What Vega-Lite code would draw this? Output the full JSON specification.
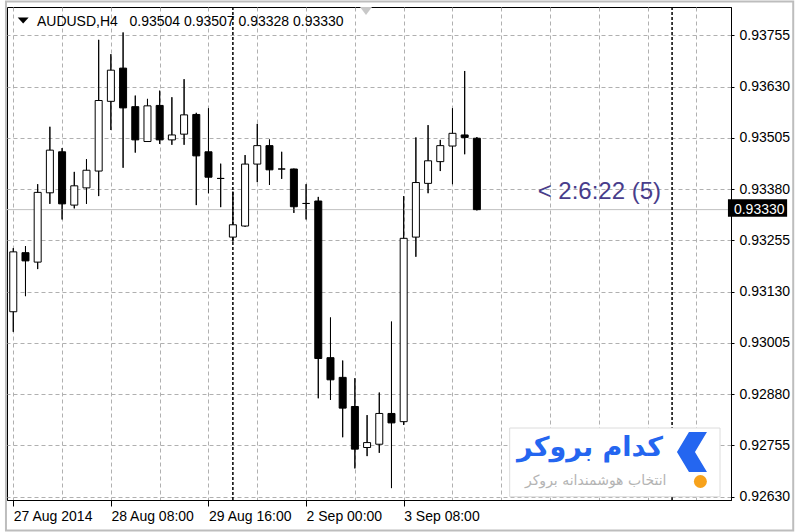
{
  "$schema": "https://vega.github.io/schema/vega-lite/v6.json",
  "width": 724,
  "height": 493,
  "autosize": {"type": "none"},
  "padding": {"left": 7, "top": 7, "right": 69, "bottom": 32},
  "background": "#ffffff",
  "config": {
    "view": {"stroke": "#000000", "strokeWidth": 1},
    "font": "Liberation Sans"
  },
  "data": {
    "values": [
      {"i": 0, "o": 0.93081, "h": 0.93236, "l": 0.93032, "c": 0.93227},
      {"i": 1, "o": 0.93225, "h": 0.93241, "l": 0.93119, "c": 0.93205},
      {"i": 2, "o": 0.93202, "h": 0.93392, "l": 0.93185, "c": 0.93372},
      {"i": 3, "o": 0.93371, "h": 0.93532, "l": 0.93344, "c": 0.93475},
      {"i": 4, "o": 0.93471, "h": 0.93480, "l": 0.93306, "c": 0.93344},
      {"i": 5, "o": 0.93341, "h": 0.93422, "l": 0.93333, "c": 0.93388},
      {"i": 6, "o": 0.93383, "h": 0.93453, "l": 0.93344, "c": 0.93426},
      {"i": 7, "o": 0.93424, "h": 0.93744, "l": 0.93363, "c": 0.93596},
      {"i": 8, "o": 0.93594, "h": 0.93709, "l": 0.93524, "c": 0.93670},
      {"i": 9, "o": 0.93675, "h": 0.93762, "l": 0.93432, "c": 0.93578},
      {"i": 10, "o": 0.93581, "h": 0.93608, "l": 0.93469, "c": 0.93500},
      {"i": 11, "o": 0.93496, "h": 0.93600, "l": 0.93495, "c": 0.93583},
      {"i": 12, "o": 0.93584, "h": 0.93620, "l": 0.93490, "c": 0.93500},
      {"i": 13, "o": 0.93500, "h": 0.93604, "l": 0.93488, "c": 0.93512},
      {"i": 14, "o": 0.93514, "h": 0.93648, "l": 0.93488, "c": 0.93561},
      {"i": 15, "o": 0.93562, "h": 0.93566, "l": 0.93341, "c": 0.93461},
      {"i": 16, "o": 0.93471, "h": 0.93577, "l": 0.93370, "c": 0.93409},
      {"i": 17, "o": 0.93406, "h": 0.93442, "l": 0.93336, "c": 0.93406},
      {"i": 18, "o": 0.93263, "h": 0.93374, "l": 0.93252, "c": 0.93293},
      {"i": 19, "o": 0.93290, "h": 0.93463, "l": 0.93288, "c": 0.93441},
      {"i": 20, "o": 0.93441, "h": 0.93539, "l": 0.93397, "c": 0.93486},
      {"i": 21, "o": 0.93486, "h": 0.93501, "l": 0.93390, "c": 0.93427},
      {"i": 22, "o": 0.93429, "h": 0.93471, "l": 0.93405, "c": 0.93429},
      {"i": 23, "o": 0.93429, "h": 0.93430, "l": 0.93322, "c": 0.93337},
      {"i": 24, "o": 0.93345, "h": 0.93392, "l": 0.93306, "c": 0.93345},
      {"i": 25, "o": 0.93351, "h": 0.93361, "l": 0.92870, "c": 0.92967},
      {"i": 26, "o": 0.92969, "h": 0.93067, "l": 0.92866, "c": 0.92915},
      {"i": 27, "o": 0.92921, "h": 0.92962, "l": 0.92775, "c": 0.92846},
      {"i": 28, "o": 0.92850, "h": 0.92919, "l": 0.92699, "c": 0.92746},
      {"i": 29, "o": 0.92750, "h": 0.92829, "l": 0.92729, "c": 0.92762},
      {"i": 30, "o": 0.92758, "h": 0.92884, "l": 0.92737, "c": 0.92833},
      {"i": 31, "o": 0.92833, "h": 0.93057, "l": 0.92651, "c": 0.92810},
      {"i": 32, "o": 0.92813, "h": 0.93363, "l": 0.92805, "c": 0.93260},
      {"i": 33, "o": 0.93263, "h": 0.93506, "l": 0.93215, "c": 0.93396},
      {"i": 34, "o": 0.93394, "h": 0.93536, "l": 0.93370, "c": 0.93449},
      {"i": 35, "o": 0.93447, "h": 0.93500, "l": 0.93424, "c": 0.93486},
      {"i": 36, "o": 0.93485, "h": 0.93577, "l": 0.93392, "c": 0.93516},
      {"i": 37, "o": 0.93512, "h": 0.93668, "l": 0.93465, "c": 0.93506},
      {"i": 38, "o": 0.93504, "h": 0.93507, "l": 0.93328, "c": 0.93330}
    ]
  },
  "layer": [
    {
      "mark": {"type": "rule", "stroke": "#000000", "strokeWidth": 1},
      "encoding": {
        "x": {
          "field": "i", "type": "quantitative",
          "scale": {"domain": [-0.105, 58.42], "nice": false, "zero": false},
          "axis": {
            "title": null,
            "values": [0, 4, 8, 12, 16, 20, 24, 28, 32, 36, 40, 44, 48, 52, 56],
            "labelExpr": "datum.value == 0 ? '27 Aug 2014' : datum.value == 8 ? '28 Aug 08:00' : datum.value == 16 ? '29 Aug 16:00' : datum.value == 24 ? '2 Sep 00:00' : datum.value == 32 ? '3 Sep 08:00' : ''",
            "tickOpacity": {"condition": {"test": "datum.value % 8 == 0 && datum.value <= 32", "value": 1}, "value": 0},
            "tickSize": 6,
            "tickColor": "#000000",
            "domainColor": "#000000",
            "labelAlign": "left",
            "labelBaseline": "top",
            "labelPadding": 3,
            "labelFont": "Liberation Sans",
            "labelFontSize": 14,
            "labelColor": "#000000",
            "labelFlush": false,
            "labelOverlap": false,
            "labelBound": false,
            "grid": true,
            "gridColor": "#b0b0b0",
            "gridDash": [4, 3],
            "gridWidth": 1
          }
        },
        "y": {
          "field": "l", "type": "quantitative",
          "scale": {"domain": [0.92622, 0.93824], "nice": false, "zero": false},
          "axis": {
            "orient": "right",
            "title": null,
            "values": [0.9263, 0.92755, 0.9288, 0.93005, 0.9313, 0.93255, 0.9338, 0.93505, 0.9363, 0.93755],
            "format": ".5f",
            "tickSize": 3,
            "tickColor": "#000000",
            "domainColor": "#000000",
            "labelPadding": 5,
            "labelFont": "Liberation Sans",
            "labelFontSize": 14,
            "labelColor": "#000000",
            "labelBaseline": "middle",
            "labelFlush": false,
            "labelOverlap": false,
            "labelBound": false,
            "grid": true,
            "gridColor": "#b0b0b0",
            "gridDash": [4, 3],
            "gridWidth": 1
          }
        },
        "y2": {"field": "h"}
      }
    },
    {
      "data": {"values": [{}]},
      "mark": {"type": "rect", "fill": null, "fillOpacity": 0, "stroke": "#bdbdbd", "strokeWidth": 2},
      "encoding": {
        "x": {"datum": -0.6, "type": "quantitative"},
        "x2": {"datum": 63.93},
        "y": {"datum": 0.938376, "type": "quantitative"},
        "y2": {"datum": 0.925476}
      }
    },
    {
      "data": {"values": [{}]},
      "mark": {"type": "rule", "stroke": "#c0c0c0", "strokeWidth": 1},
      "encoding": {"y": {"datum": 0.9333, "type": "quantitative"}}
    },
    {
      "data": {"values": [{"week_start_bar": 18}, {"week_start_bar": 54}]},
      "mark": {"type": "rule", "stroke": "#000000", "strokeWidth": 1.5, "strokeDash": [3, 2]},
      "encoding": {"x": {"field": "week_start_bar", "type": "quantitative"}}
    },
    {
      "mark": {"type": "rule", "stroke": "#000000", "strokeWidth": 1},
      "encoding": {
        "x": {"field": "i", "type": "quantitative"},
        "y": {"field": "l", "type": "quantitative"},
        "y2": {"field": "h"}
      }
    },
    {
      "mark": {"type": "bar", "width": 7, "stroke": "#000000", "strokeWidth": 1},
      "encoding": {
        "x": {"field": "i", "type": "quantitative"},
        "y": {"field": "o", "type": "quantitative"},
        "y2": {"field": "c"},
        "fill": {"condition": {"test": "datum.c >= datum.o", "value": "#ffffff"}, "value": "#000000"}
      }
    },
    {
      "data": {"values": [{}]},
      "mark": {"type": "rect", "fill": "#ffffff", "stroke": "#dcdcdc", "strokeWidth": 1},
      "encoding": {
        "x": {"datum": 40.69, "type": "quantitative"},
        "x2": {"datum": 57.93},
        "y": {"datum": 0.927975, "type": "quantitative"},
        "y2": {"datum": 0.9263}
      }
    },
    {
      "data": {"values": [{}]},
      "mark": {"type": "point", "filled": true, "opacity": 1, "fill": "#2466f0", "strokeWidth": 0, "size": 1600,
               "shape": "M-0.75,0 L-0.15,-1 L0.75,-1 L0.15,0 L0.75,1 L-0.15,1 Z"},
      "encoding": {
        "x": {"datum": 55.63, "type": "quantitative"},
        "y": {"datum": 0.92739, "type": "quantitative"}
      }
    },
    {
      "data": {"values": [{}]},
      "mark": {"type": "point", "filled": true, "opacity": 1, "fill": "#f7a21b", "strokeWidth": 0, "size": 169, "shape": "circle"},
      "encoding": {
        "x": {"datum": 56.32, "type": "quantitative"},
        "y": {"datum": 0.926671, "type": "quantitative"}
      }
    },
    {
      "data": {"values": [{}]},
      "mark": {"type": "text", "text": "کدام بروکر", "font": "DejaVu Sans", "fontWeight": "bold", "fontSize": 27, "fill": "#2466f0", "align": "right", "baseline": "middle"},
      "encoding": {
        "x": {"datum": 53.25, "type": "quantitative"},
        "y": {"datum": 0.927488, "type": "quantitative"}
      }
    },
    {
      "data": {"values": [{}]},
      "mark": {"type": "text", "text": "انتخاب هوشمندانه بروکر", "font": "DejaVu Sans", "fontSize": 14, "fill": "#b4b4b4", "align": "right", "baseline": "middle"},
      "encoding": {
        "x": {"datum": 53.54, "type": "quantitative"},
        "y": {"datum": 0.926695, "type": "quantitative"}
      }
    },
    {
      "data": {"values": [{}]},
      "mark": {"type": "point", "filled": true, "opacity": 1, "fill": "#000000", "strokeWidth": 0, "size": 121,
               "shape": "M-1,-0.55 L1,-0.55 L0,0.55 Z"},
      "encoding": {
        "x": {"datum": 0.81, "type": "quantitative"},
        "y": {"datum": 0.93791, "type": "quantitative"}
      }
    },
    {
      "data": {"values": [{}]},
      "mark": {"type": "text", "text": "AUDUSD,H4\u00a0\u00a0\u00a00.93504 0.93507 0.93328 0.93330", "font": "Liberation Sans", "fontSize": 14, "fill": "#000000", "align": "left", "baseline": "alphabetic"},
      "encoding": {
        "x": {"datum": 1.94, "type": "quantitative"},
        "y": {"datum": 0.93778, "type": "quantitative"}
      }
    },
    {
      "data": {"values": [{}]},
      "mark": {"type": "text", "text": "< 2:6:22 (5)", "font": "Liberation Sans", "fontSize": 24, "fill": "#483d8b", "align": "left", "baseline": "alphabetic"},
      "encoding": {
        "x": {"datum": 42.98, "type": "quantitative"},
        "y": {"datum": 0.93355, "type": "quantitative"}
      }
    },
    {
      "data": {"values": [{}]},
      "mark": {"type": "point", "filled": true, "opacity": 1, "fill": "#c8c8c8", "strokeWidth": 0, "size": 144,
               "shape": "M-1,-0.67 L1,-0.67 L0,0.67 Z"},
      "encoding": {
        "x": {"datum": 28.91, "type": "quantitative"},
        "y": {"datum": 0.938142, "type": "quantitative"}
      }
    },
    {
      "data": {"values": [{}]},
      "mark": {"type": "rect", "fill": "#000000"},
      "encoding": {
        "x": {"datum": 58.58, "type": "quantitative"},
        "x2": {"datum": 63.43},
        "y": {"datum": 0.933551, "type": "quantitative"},
        "y2": {"datum": 0.933127}
      }
    },
    {
      "data": {"values": [{}]},
      "mark": {"type": "text", "text": "0.93330", "font": "Liberation Sans", "fontSize": 14, "fill": "#ffffff", "align": "left", "baseline": "middle"},
      "encoding": {
        "x": {"datum": 59.07, "type": "quantitative"},
        "y": {"datum": 0.9333, "type": "quantitative"}
      }
    }
  ]
}
